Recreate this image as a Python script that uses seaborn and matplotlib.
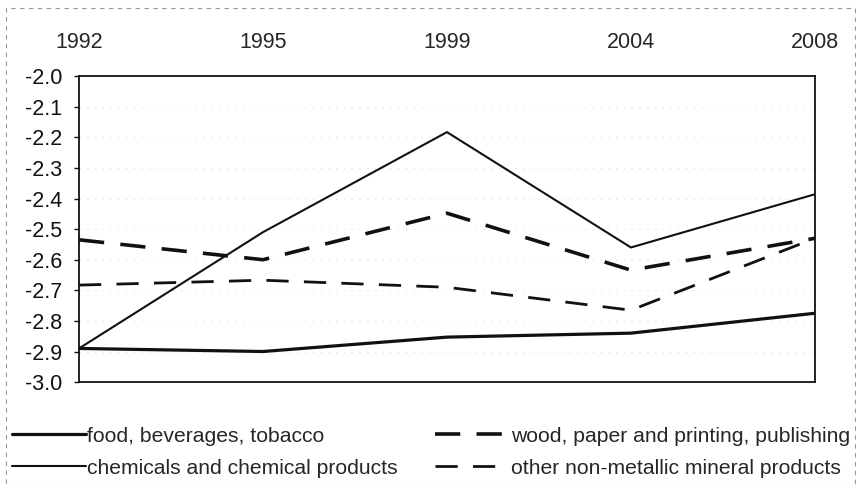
import pandas as pd
import matplotlib.pyplot as plt
import seaborn as sns
from matplotlib.patches import Rectangle

years = ['1992', '1995', '1999', '2004', '2008']
food = [-2.89, -2.90, -2.853, -2.84, -2.775]
chemicals = [-2.89, -2.51, -2.183, -2.56, -2.386]
wood = [-2.535, -2.60, -2.448, -2.634, -2.53]
other = [-2.683, -2.667, -2.69, -2.765, -2.53]

series = {
    'food, beverages, tobacco': food,
    'wood, paper and printing, publishing': wood,
    'chemicals and chemical products': chemicals,
    'other non-metallic mineral products': other,
}
styles = {
    'food, beverages, tobacco': dict(lw=2.3, ls='-'),
    'wood, paper and printing, publishing': dict(lw=2.6, ls=(0, (7, 4.5))),
    'chemicals and chemical products': dict(lw=1.5, ls='-'),
    'other non-metallic mineral products': dict(lw=2.0, ls=(0, (8, 5.5))),
}

rows = []
for name, vals in series.items():
    for i, v in enumerate(vals):
        rows.append({'pos': i, 'value': v, 'series': name})
df = pd.DataFrame(rows)

sns.set_style('white')
plt.rcParams['font.family'] = ['Liberation Sans', 'DejaVu Sans']

fig = plt.figure(figsize=(8.56, 4.88), dpi=100)
ax = fig.add_axes([0.0923, 0.217, 0.8597, 0.627])

for name in series:
    sub = df[df['series'] == name]
    st = styles[name]
    sns.lineplot(x='pos', y='value', data=sub, ax=ax, color='#111111',
                 linewidth=st['lw'], linestyle=st['ls'], label=name)

ax.set_xlim(0, 4)
ax.set_ylim(-3.0, -2.0)
ax.set_xticks(range(len(years)))
ax.set_xticklabels(years)
ax.xaxis.tick_top()
ax.tick_params(axis='x', length=0, pad=17, labelsize=15.5)
ax.tick_params(axis='y', length=3.5, width=1, direction='out', left=True,
               labelsize=15.5, pad=8.5, colors='#111111')
ax.set_yticks([-2.0 - 0.1 * i for i in range(11)])
ax.set_yticklabels(['%.1f' % (-2.0 - 0.1 * i) for i in range(11)])
ax.yaxis.grid(True, color='#dddddd', linestyle=(0, (1, 6)), linewidth=0.8)
ax.set_xlabel('')
ax.set_ylabel('')
for s in ax.spines.values():
    s.set_color('#111111')
    s.set_linewidth(1.3)

handles, labels = ax.get_legend_handles_labels()
order = ['food, beverages, tobacco', 'chemicals and chemical products',
         'wood, paper and printing, publishing',
         'other non-metallic mineral products']
hmap = dict(zip(labels, handles))
ax.legend([hmap[l] for l in order], order, ncol=2, frameon=False,
          fontsize=15.2, loc='upper left', bbox_to_anchor=(0.0065, 0.139),
          bbox_transform=fig.transFigure, handlelength=3.5,
          handletextpad=0.08, columnspacing=1.77, labelspacing=0.62,
          borderaxespad=0, borderpad=0.3)

fig.patches.append(Rectangle((0.007, 0.0), 0.992, 0.983,
                             transform=fig.transFigure, fill=False,
                             edgecolor='#999999', linewidth=0.8,
                             linestyle=(0, (4, 4))))

plt.savefig('out.png', dpi=100)
plt.close()
